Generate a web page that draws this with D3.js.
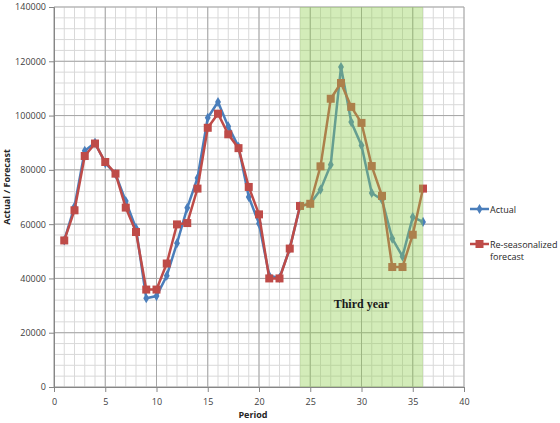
<!DOCTYPE html>
<html>
<head>
<meta charset="utf-8">
<script src="https://cdn.jsdelivr.net/npm/d3@7"></script>
<style>
  body { margin: 0; background: #fff; }
  text { font-family: "Open Sans", "Liberation Sans", sans-serif; }
</style>
</head>
<body>
<div id="chart"></div>
<script>
// data
var periods = d3.range(1, 37);
var actual = [54000, 66500, 87000, 90000, 82500, 78500, 68500, 58500, 32700, 33500,
              41000, 53000, 66000, 77000, 99200, 105000, 96000, 88500, 70000, 60200,
              41000, 40200, 51000, 66700, 67500, 72700, 81900, 117900, 97600, 89000,
              71500, 69000, 54700, 48100, 62600, 60800];
var forecast = [54000, 65100, 85100, 89700, 82900, 78600, 66100, 57100, 35900, 35900,
                45500, 59900, 60400, 73100, 95500, 100700, 93100, 88000, 73700, 63600,
                40000, 40000, 51000, 66700, 67500, 81300, 106200, 112000, 103200, 97300,
                81400, 70400, 44200, 44200, 56100, 73100];
var xTicks = [0, 5, 10, 15, 20, 25, 30, 35, 40];
var yTicks = [0, 20000, 40000, 60000, 80000, 100000, 120000, 140000];
var shadeRange = [24, 36];

var width = 560, height = 423;
var margin = {top: 7, right: 96, bottom: 36, left: 54};
var w = 464 - margin.left, h = 387 - margin.top;

var svg = d3.select("#chart")
    .append("svg")
    .attr("width", width)
    .attr("height", height)
    .append("g")
    .attr("transform", "translate(" + margin.left + "," + margin.top + ")");

var x = d3.scaleLinear().domain([0, 40]).range([0, w]);
var y = d3.scaleLinear().domain([0, 140000]).range([h, 0]);

// minor grid
svg.append("g").selectAll("line")
    .data(d3.range(0, 41, 1))
    .enter().append("line")
    .attr("x1", function (d) { return x(d); })
    .attr("x2", function (d) { return x(d); })
    .attr("y1", 0).attr("y2", h)
    .attr("stroke", "#d9d9d9").attr("stroke-width", 1);
svg.append("g").selectAll("line")
    .data(d3.range(0, 140001, 4000))
    .enter().append("line")
    .attr("x1", 0).attr("x2", w)
    .attr("y1", function (d) { return y(d); })
    .attr("y2", function (d) { return y(d); })
    .attr("stroke", "#d9d9d9").attr("stroke-width", 1);

// major grid
svg.append("g").selectAll("line")
    .data(xTicks)
    .enter().append("line")
    .attr("x1", function (d) { return x(d); })
    .attr("x2", function (d) { return x(d); })
    .attr("y1", 0).attr("y2", h)
    .attr("stroke", "#a6a6a6").attr("stroke-width", 1);
svg.append("g").selectAll("line")
    .data(yTicks)
    .enter().append("line")
    .attr("x1", 0).attr("x2", w)
    .attr("y1", function (d) { return y(d); })
    .attr("y2", function (d) { return y(d); })
    .attr("stroke", "#a6a6a6").attr("stroke-width", 1);

// axes
var yAxis = svg.append("g")
    .call(d3.axisLeft(y).tickValues(yTicks).tickSize(5).tickFormat(d3.format("d")));
yAxis.selectAll("text").style("font-size", "9px").attr("fill", "#404040");
yAxis.selectAll("line, path").attr("stroke", "#868686");

var xAxis = svg.append("g")
    .attr("transform", "translate(0," + h + ")")
    .call(d3.axisBottom(x).tickValues(xTicks).tickSize(5));
xAxis.selectAll("text").style("font-size", "9px").attr("fill", "#404040").attr("dy", "1.1em");
xAxis.selectAll("line, path").attr("stroke", "#868686");

// lines + markers
var line = d3.line()
    .x(function (d, i) { return x(periods[i]); })
    .y(function (d) { return y(d); });

svg.append("path")
    .datum(actual)
    .attr("fill", "none")
    .attr("stroke", "#4a7ebb")
    .attr("stroke-width", 2.5)
    .attr("d", line);
svg.append("g").selectAll("path")
    .data(actual)
    .enter().append("path")
    .attr("transform", function (d, i) { return "translate(" + x(periods[i]) + "," + y(d) + ")"; })
    .attr("d", d3.symbol().type(d3.symbolDiamond).size(30))
    .attr("fill", "#4a7ebb");

svg.append("path")
    .datum(forecast)
    .attr("fill", "none")
    .attr("stroke", "#be4b48")
    .attr("stroke-width", 2.5)
    .attr("d", line);
svg.append("g").selectAll("rect")
    .data(forecast)
    .enter().append("rect")
    .attr("x", function (d, i) { return x(periods[i]) - 4; })
    .attr("y", function (d) { return y(d) - 4; })
    .attr("width", 8).attr("height", 8)
    .attr("fill", "#be4b48");

// third year overlay (drawn on top, semi transparent)
svg.append("rect")
    .attr("x", x(shadeRange[0]))
    .attr("y", 0)
    .attr("width", x(shadeRange[1]) - x(shadeRange[0]))
    .attr("height", h)
    .attr("fill", "#92d050")
    .attr("opacity", 0.4);

svg.append("text")
    .attr("x", x(30))
    .attr("y", y(29000))
    .attr("text-anchor", "middle")
    .style("font-family", "'Liberation Serif', 'DejaVu Serif', serif")
    .style("font-weight", "bold")
    .style("font-size", "12px")
    .attr("fill", "#1a1a1a")
    .text("Third year");

// axis titles
svg.append("text")
    .attr("x", w / 2 - 6)
    .attr("y", h + 31)
    .attr("text-anchor", "middle")
    .style("font-size", "9px")
    .style("font-weight", "bold")
    .attr("fill", "#262626")
    .text("Period");

svg.append("text")
    .attr("transform", "translate(" + (-44) + "," + (h / 2 - 10) + ") rotate(-90)")
    .attr("text-anchor", "middle")
    .style("font-size", "9px")
    .style("font-weight", "bold")
    .attr("fill", "#262626")
    .text("Actual / Forecast");

// legend
var legend = d3.select("svg").append("g")
    .attr("transform", "translate(470,0)");

legend.append("line")
    .attr("x1", 0).attr("x2", 19).attr("y1", 209).attr("y2", 209)
    .attr("stroke", "#4a7ebb").attr("stroke-width", 2.5);
legend.append("path")
    .attr("transform", "translate(9.5,209)")
    .attr("d", d3.symbol().type(d3.symbolDiamond).size(30))
    .attr("fill", "#4a7ebb");
legend.append("text")
    .attr("x", 20).attr("y", 212.5)
    .style("font-size", "9px")
    .attr("fill", "#262626")
    .text("Actual");

legend.append("line")
    .attr("x1", 0).attr("x2", 19).attr("y1", 244).attr("y2", 244)
    .attr("stroke", "#be4b48").attr("stroke-width", 2.5);
legend.append("rect")
    .attr("x", 5.5).attr("y", 240).attr("width", 8).attr("height", 8)
    .attr("fill", "#be4b48");
legend.append("text")
    .attr("x", 20).attr("y", 247.5)
    .style("font-size", "9px")
    .attr("fill", "#262626")
    .text("Re-seasonalized");
legend.append("text")
    .attr("x", 20).attr("y", 259.5)
    .style("font-size", "9px")
    .attr("fill", "#262626")
    .text("forecast");
</script>
</body>
</html>
